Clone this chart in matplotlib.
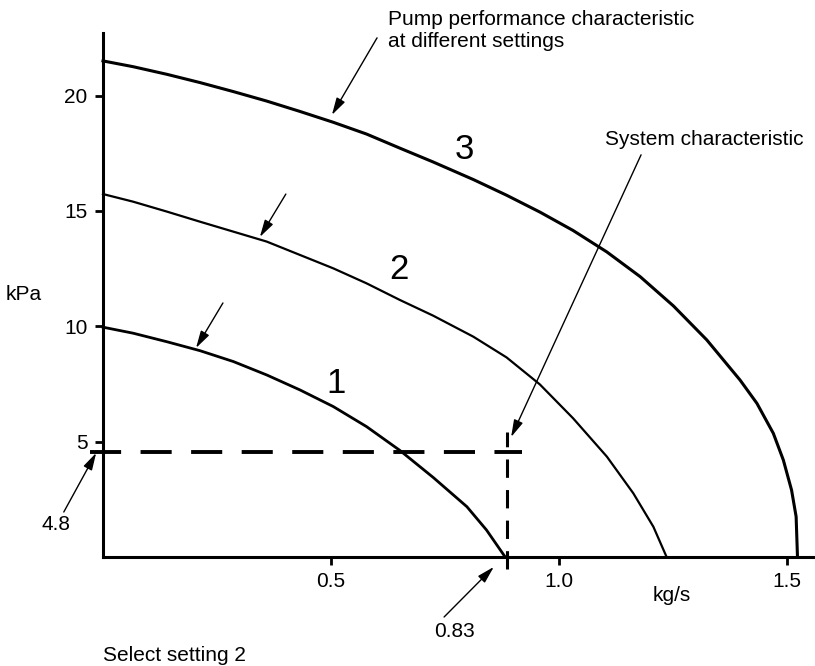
import matplotlib
matplotlib.use("Agg")
import matplotlib.pyplot as plt

plt.rcParams['font.family'] = ['Liberation Sans', 'DejaVu Sans']

# pump curves (flow kg/s, pressure kPa)
flow_1 = [0.0, 0.066, 0.140, 0.213, 0.286, 0.359, 0.432, 0.505, 0.578, 0.651,
          0.724, 0.798, 0.841, 0.882]
kpa_1 = [9.96, 9.70, 9.33, 8.94, 8.47, 7.89, 7.24, 6.52, 5.65, 4.62,
         3.45, 2.18, 1.17, 0.0]

flow_2 = [0.0, 0.066, 0.140, 0.213, 0.286, 0.359, 0.432, 0.505, 0.578, 0.651,
          0.724, 0.812, 0.885, 0.958, 1.031, 1.105, 1.163, 1.207, 1.236]
kpa_2 = [15.73, 15.40, 14.97, 14.53, 14.10, 13.67, 13.09, 12.51, 11.86, 11.14,
         10.46, 9.55, 8.65, 7.48, 6.01, 4.35, 2.76, 1.31, 0.0]

flow_3 = [0.0, 0.066, 0.140, 0.213, 0.286, 0.359, 0.432, 0.505, 0.578, 0.651,
          0.724, 0.812, 0.885, 0.958, 1.031, 1.105, 1.178, 1.251, 1.324, 1.397,
          1.434, 1.470, 1.492, 1.510, 1.520, 1.523]
kpa_3 = [21.50, 21.25, 20.92, 20.56, 20.17, 19.76, 19.31, 18.84, 18.33, 17.72,
         17.12, 16.36, 15.68, 14.95, 14.15, 13.22, 12.15, 10.88, 9.41, 7.67,
         6.66, 5.36, 4.20, 2.90, 1.75, 0.0]

# operating point
op_flow = 0.885
op_kpa = 4.57
op_flow_label = "0.83"
op_kpa_label = "4.8"

xticks = [0.5, 1.0, 1.5]
xtick_labels = ["0.5", "1.0", "1.5"]
yticks = [5, 10, 15, 20]
ytick_labels = ["5", "10", "15", "20"]

fig = plt.figure(figsize=(8.15, 6.66), dpi=100)
ax = fig.add_axes([103 / 815, 109 / 666, 712 / 815, 524 / 666])
ax.set_xlim(0, 1.5614)
ax.set_ylim(0, 22.71)

for s in ['top', 'right']:
    ax.spines[s].set_visible(False)
for s in ['left', 'bottom']:
    ax.spines[s].set_linewidth(2.2)

ax.set_xticks(xticks)
ax.set_xticklabels(xtick_labels)
ax.set_yticks(yticks)
ax.set_yticklabels(ytick_labels)
ax.tick_params(axis='both', direction='out', length=6, width=2, labelsize=15, pad=5)

# pump characteristics
ax.plot(flow_1, kpa_1, color='black', lw=2.0, clip_on=False)
ax.plot(flow_2, kpa_2, color='black', lw=1.6, clip_on=False)
ax.plot(flow_3, kpa_3, color='black', lw=2.2, clip_on=False)

# dashed construction lines
ax.plot([-0.029, op_flow + 0.034], [op_kpa, op_kpa], color='black', lw=2.8,
        dashes=(8, 5), clip_on=False)
ax.plot([op_flow, op_flow], [-0.5, op_kpa + 0.85], color='black', lw=2.2,
        dashes=(6, 4), clip_on=False)

arrow = dict(arrowstyle='-|>,head_length=0.8,head_width=0.22', lw=1.0,
             color='black', shrinkA=0, shrinkB=0, mutation_scale=13)

ax.text(0.625, 22.82, "Pump performance characteristic\nat different settings",
        fontsize=15, ha='left', va='center', linespacing=1.2, clip_on=False)
ax.annotate("", xy=(0.502, 19.16), xytext=(0.601, 22.5), arrowprops=arrow,
            annotation_clip=False)
ax.annotate("", xy=(0.344, 13.87), xytext=(0.401, 15.73), arrowprops=arrow)
ax.annotate("", xy=(0.204, 9.06), xytext=(0.263, 11.01), arrowprops=arrow)

ax.annotate("", xy=(0.895, 5.20), xytext=(1.180, 17.43), arrowprops=arrow)
ax.text(1.318, 18.08, "System characteristic", fontsize=15, ha='center', va='center')

ax.text(0.792, 17.64, "3", fontsize=25, ha='center', va='center')
ax.text(0.649, 12.44, "2", fontsize=25, ha='center', va='center')
ax.text(0.511, 7.54, "1", fontsize=25, ha='center', va='center')

ax.annotate("", xy=(-0.015, 4.51), xytext=(-0.086, 1.95), arrowprops=arrow,
            annotation_clip=False)
ax.text(-0.103, 1.39, op_kpa_label, fontsize=15, ha='center', va='center', clip_on=False)

ax.annotate("", xy=(0.857, -0.43), xytext=(0.748, -2.60), arrowprops=arrow,
            annotation_clip=False)
ax.text(0.770, -3.25, op_flow_label, fontsize=15, ha='center', va='center', clip_on=False)

ax.text(1.248, -1.65, "kg/s", fontsize=15, ha='center', va='center', clip_on=False)
ax.text(-0.173, 11.36, "kPa", fontsize=15, ha='center', va='center', clip_on=False)
ax.text(0.0, -4.25, "Select setting 2", fontsize=15, ha='left', va='center', clip_on=False)

fig.savefig("out.png", dpi=100)
